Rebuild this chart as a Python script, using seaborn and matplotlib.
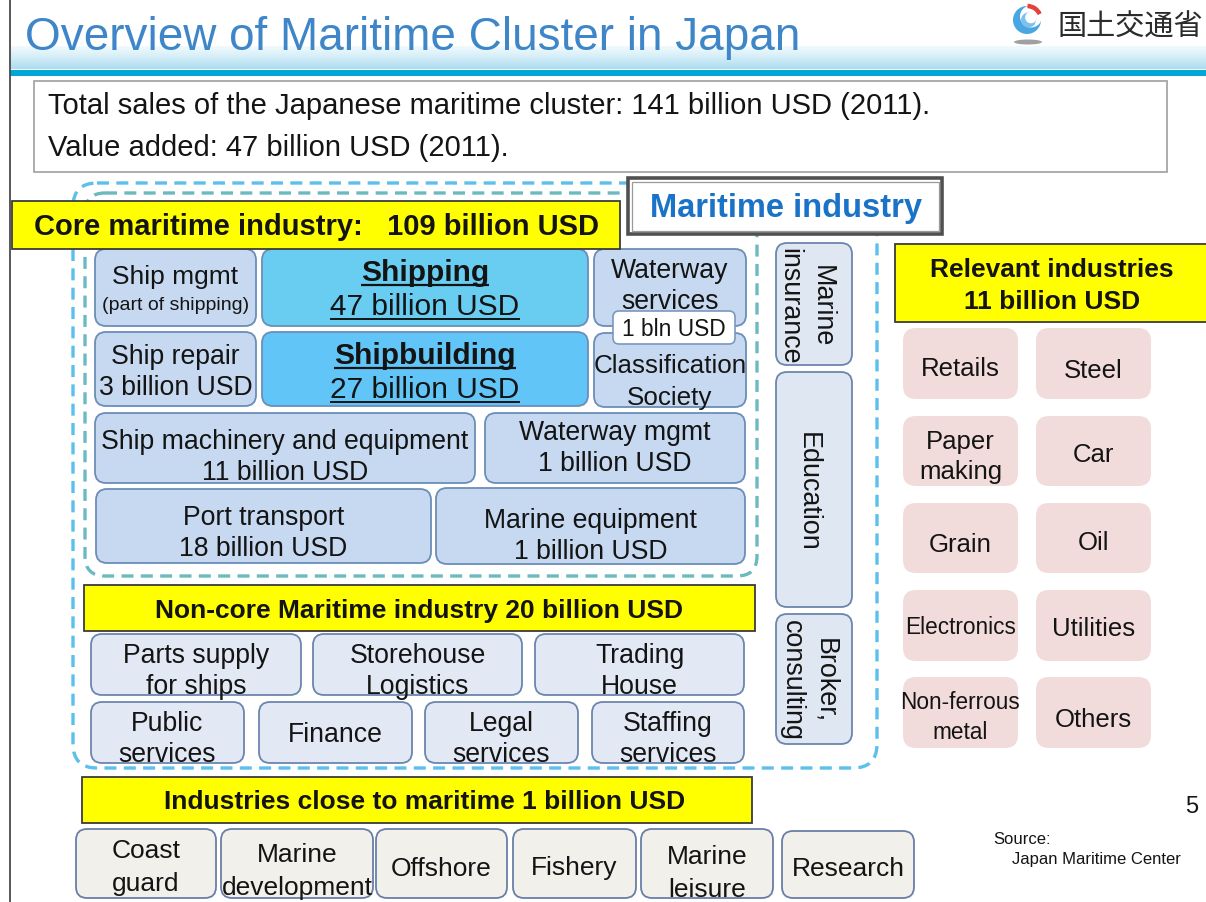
import numpy as np
import matplotlib
matplotlib.use("Agg")
import matplotlib.pyplot as plt
from matplotlib.patches import FancyBboxPatch, Rectangle, Circle, Ellipse, Arc
from matplotlib.colors import LinearSegmentedColormap
import seaborn as sns

# ------------------------------------------------------------------ data
title = "Overview of Maritime Cluster in Japan"
ministry = "国土交通省"
total_sales = 141          # billion USD
value_added = 47           # billion USD
data_year = 2011

core_total = 109
core_labels = ["Ship mgmt", "Shipping", "Waterway\nservices", "Ship repair", "Shipbuilding",
               "Classification\nSociety", "Ship machinery and equipment", "Waterway mgmt",
               "Port transport", "Marine equipment"]
core_values = [None, 47, None, 3, 27, None, 11, 1, 18, 1]
core_notes = ["(part of shipping)", None, None, None, None, None, None, None, None, None]
shared_value = 1           # Waterway services + Classification Society
side_labels = ["Marine\ninsurance", "Education", "Broker,\nconsulting"]
noncore_total = 20
noncore_labels = ["Parts supply\nfor ships", "Storehouse\nLogistics", "Trading\nHouse",
                  "Public\nservices", "Finance", "Legal\nservices", "Staffing\nservices"]
close_total = 1
close_labels = ["Coast\nguard", "Marine\ndevelopment", "Offshore", "Fishery",
                "Marine\nleisure", "Research"]
relevant_total = 11
relevant_labels = ["Retails", "Steel", "Paper\nmaking", "Car", "Grain", "Oil",
                   "Electronics", "Utilities", "Non-ferrous\nmetal", "Others"]
page_number = 5
source_lines = ["Source:", "Japan Maritime Center"]

# ------------------------------------------------------------------ layout (pixels)
core_boxes = [(95, 249, 256, 326), (262, 249, 588, 326), (594, 249, 746, 326),
              (95, 332, 256, 406), (262, 332, 588, 406), (594, 333, 746, 407),
              (95, 413, 475, 483), (485, 413, 745, 483),
              (96, 489, 431, 563), (436, 488, 745, 564)]
core_text_y = [275, None, 284, 370, None, 380, 455, 446, 531, 534]
side_boxes = [(776, 243, 852, 365), (776, 372, 852, 607), (776, 614, 852, 744)]
side_text_x = [808, 810, 811]
noncore_boxes = [(91, 634, 301, 695), (313, 634, 522, 695), (535, 634, 744, 695),
                 (91, 702, 244, 763), (259, 702, 412, 763), (425, 702, 578, 763),
                 (592, 702, 744, 763)]
noncore_text_y = [669, 669, 669, 737, 733, 737, 737]
close_boxes = [(76, 829, 216, 898), (221, 829, 373, 898), (376, 829, 507, 898),
               (513, 829, 636, 898), (641, 829, 773, 898), (782, 831, 914, 898)]
close_text_y = [865, 869, 867, 866, 871, 867]
relevant_boxes = []
for r, (y0, y1) in enumerate([(328, 399), (416, 486), (503, 573), (590, 661), (677, 748)]):
    relevant_boxes.append((903, y0, 1018, y1))
    relevant_boxes.append((1036, y0, 1151, y1))
relevant_text_y = [367, 369, 455, 453, 543, 541, 626, 627, 716, 718]
relevant_sizes = [18.5, 18.5, 18.5, 18.5, 18.5, 18.5, 16.3, 18.5, 16.3, 18.5]

# ------------------------------------------------------------------ style
sns.set_theme(style="white")
plt.rcParams["font.family"] = ["Liberation Sans", "Noto Sans CJK JP", "DejaVu Sans"]

FONT = "Liberation Sans"
TXT = "#141414"
PX = 100 / 72.0

fig = plt.figure(figsize=(12.06, 9.02), dpi=100)
ax = fig.add_axes([0, 0, 1, 1])
ax.set_xlim(0, 1206)
ax.set_ylim(902, 0)
ax.axis("off")


def rbox(b, fc, ec, lw=1.3, r=10, z=2, ls="-"):
    x0, y0, x1, y1 = b
    p = FancyBboxPatch((x0, y0), x1 - x0, y1 - y0,
                       boxstyle=f"round,pad=0,rounding_size={r}",
                       fc=fc, ec=ec, lw=lw, ls=ls, zorder=z)
    ax.add_patch(p)
    return p


def rect(b, fc, ec, lw=1.2, z=2):
    x0, y0, x1, y1 = b
    ax.add_patch(Rectangle((x0, y0), x1 - x0, y1 - y0, fc=fc, ec=ec, lw=lw, zorder=z))


def line_text(x, cy, s, size, weight="normal", color=TXT, ha="center", z=5, family=FONT):
    # place a single line so that its visual (cap) centre sits at cy
    base = cy + 0.35 * size * PX
    return ax.text(x, base, s, fontsize=size, fontweight=weight, color=color,
                   ha=ha, va="baseline", zorder=z, family=family)


def multi_text(x, cy, s, size, gap=31.5, **kw):
    lines = s.split("\n")
    n = len(lines)
    out = []
    for i, ln in enumerate(lines):
        out.append(line_text(x, cy + (i - (n - 1) / 2) * gap, ln, size, **kw))
    return out


def vert_text(cx, cy, s, size, gap=33):
    lines = s.split("\n")
    n = len(lines)
    for i, ln in enumerate(lines):
        x = cx + ((n - 1) / 2 - i) * gap
        ax.text(x - 0.35 * size * PX, cy, ln, fontsize=size, color=TXT, rotation=270,
                rotation_mode="anchor", ha="center", va="baseline", zorder=5, family=FONT)


# ------------------------------------------------------------------ header
grad = np.linspace(0, 1, 40).reshape(-1, 1)
cmap = LinearSegmentedColormap.from_list("band", ["#f2fafd", "#d3edf8", "#acdcef"])
ax.imshow(grad, extent=[10, 1206, 69, 46], cmap=cmap, aspect="auto", zorder=0,
          origin="upper", interpolation="bilinear")
ax.add_patch(Rectangle((10, 69.5), 1196, 6.5, fc="#00a6d6", ec="none", zorder=1))
ax.set_xlim(0, 1206)
ax.set_ylim(902, 0)
ax.plot([10, 10], [0, 902], color="#4a4a4a", lw=1.3, zorder=3)

ax.text(25, 50, title, fontsize=33, color="#3e86c8", ha="left", va="baseline",
        family=FONT, zorder=4)

# ministry logo
ax.add_patch(Ellipse((1028, 42), 28, 5, fc="#a0a0a0", ec="none", zorder=3))
ax.add_patch(Circle((1027, 20), 14, fc="#4aa6e2", ec="none", zorder=3))
ax.add_patch(Circle((1031, 16.5), 11, fc="white", ec="none", zorder=3))
ax.add_patch(Circle((1028.5, 20), 7.5, fc="#7cc2ee", ec="none", zorder=3))
ax.add_patch(Circle((1031, 17.5), 5.8, fc="white", ec="none", zorder=3))
ax.add_patch(Arc((1027, 20), 28, 28, theta1=272, theta2=335, color="#e4413b", lw=3.2, zorder=4))
ax.text(1130, 28, ministry, fontsize=21, color="#2b2b2b", ha="center", va="center",
        family=["Noto Sans CJK JP"], zorder=4)

# summary box
rect((34, 81, 1167, 172), "white", "#a6a6a6", lw=1.3, z=2)
line_text(48, 104, f"Total sales of the Japanese maritime cluster: {total_sales} billion USD ({data_year}).",
          21, ha="left")
line_text(48, 146, f"Value added: {value_added} billion USD ({data_year}).", 21, ha="left")

# ------------------------------------------------------------------ dashed frames
rbox((73, 183, 877, 768), "none", "#5cbfec", lw=2.4, r=24, z=1, ls=(0, (3.6, 2.2)))
rbox((85, 193, 757, 576), "none", "#6cbac0", lw=2.4, r=20, z=1, ls=(0, (3.6, 2.2)))

# Maritime industry label
rect((628, 178, 942, 234), "white", "#505050", lw=2.6, z=3)
rect((631.5, 181.5, 938.5, 230.5), "none", "#9a9a9a", lw=0.9, z=3)
line_text(786, 206, "Maritime industry", 23.5, weight="bold", color="#1a73c6")

# Core maritime
rect((12, 201, 620, 249), "#ffff00", "#3c3c3c", lw=1.3, z=3)
line_text(316, 225, f"Core maritime industry:   {core_total} billion USD", 21, weight="bold")

fig.canvas.draw()
renderer = fig.canvas.get_renderer()
inv = ax.transData.inverted()


def underline(t, offset=3.0, lw=1.4):
    bb = t.get_window_extent(renderer)
    (x0, _), (x1, _) = inv.transform([[bb.x0, bb.y0], [bb.x1, bb.y0]])
    y = t.get_position()[1] + offset
    ax.plot([x0, x1], [y, y], color=TXT, lw=lw, zorder=6, solid_capstyle="butt")


for b, lab, val, note, ty in zip(core_boxes, core_labels, core_values, core_notes, core_text_y):
    highlight = lab in ("Shipping", "Shipbuilding")
    if highlight:
        fc = "#68cdf1" if lab == "Shipping" else "#62c5f7"
        rbox(b, fc, "#6b8db8", lw=1.3, r=11, z=2)
        cx = (b[0] + b[2]) / 2
        t1 = line_text(cx, b[1] + 22, lab, 21.5, weight="bold")
        t2 = line_text(cx, b[1] + 56, f"{val} billion USD", 21.5)
        underline(t1, 3.5, 1.6)
        underline(t2, 3.5, 1.4)
    else:
        rbox(b, "#c6d9f1", "#6b8db8", lw=1.3, r=11, z=2)
        cx = (b[0] + b[2]) / 2
        if note is not None:
            line_text(cx, ty, lab, 19)
            line_text(cx, ty + 28, note, 14)
        else:
            s = lab if val is None else f"{lab}\n{val} billion USD"
            size = 18.7 if lab.startswith("Classification") else 19.2
            multi_text(cx, ty, s, size)

# shared 1 bln USD tag
rbox((613, 311, 735, 344), "white", "#7a98c0", lw=1.2, r=6, z=4)
line_text(674, 328, f"{shared_value} bln USD", 16.4)

# side column
for b, lab, tx in zip(side_boxes, side_labels, side_text_x):
    rbox(b, "#dfe7f3", "#6b86ad", lw=1.3, r=11, z=2)
    vert_text(tx, (b[1] + b[3]) / 2 + 2, lab, 19.4)

# Non-core
rect((84, 585, 755, 631), "#ffff00", "#3c3c3c", lw=1.3, z=3)
line_text(419, 609, f"Non-core Maritime industry {noncore_total} billion USD", 19, weight="bold")
for b, lab, ty in zip(noncore_boxes, noncore_labels, noncore_text_y):
    rbox(b, "#e2e9f4", "#6b86ad", lw=1.3, r=11, z=2)
    multi_text((b[0] + b[2]) / 2, ty, lab, 19.2)

# Industries close to maritime
rect((82, 777, 752, 823), "#ffff00", "#3c3c3c", lw=1.3, z=3)
line_text(425, 800, f"Industries close to maritime {close_total} billion USD", 19, weight="bold")
for b, lab, ty in zip(close_boxes, close_labels, close_text_y):
    rbox(b, "#f2f0eb", "#6a7fa6", lw=1.3, r=11, z=2)
    multi_text((b[0] + b[2]) / 2, ty, lab, 19, gap=33)

# Relevant industries
rect((895, 244, 1208, 322), "#ffff00", "#3c3c3c", lw=1.3, z=3)
line_text(1052, 268, "Relevant industries", 19, weight="bold")
line_text(1052, 300, f"{relevant_total} billion USD", 19, weight="bold")
for b, lab, ty, sz in zip(relevant_boxes, relevant_labels, relevant_text_y, relevant_sizes):
    rbox(b, "#f2dcdb", "none", lw=0, r=13, z=2)
    multi_text((b[0] + b[2]) / 2, ty, lab, sz, gap=30)

# footer
line_text(1192, 805, str(page_number), 17, ha="center")
line_text(993, 838, source_lines[0], 12, ha="left")
line_text(1012, 858, source_lines[1], 12, ha="left")

fig.savefig("out.png", dpi=100)
